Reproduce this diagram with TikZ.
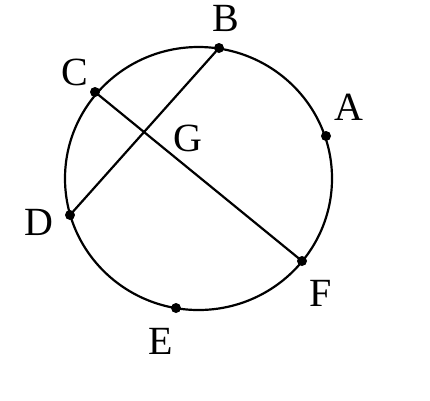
\documentclass[tikz,border=0pt]{standalone}
\usepackage{fontspec}
\setmainfont{Liberation Serif}
\begin{document}
\begin{tikzpicture}[x=1pt,y=-1pt,
  curve/.style={line width=2.2pt,black},
  pt/.style={circle,fill=black,inner sep=0pt,minimum size=10pt},
  lbl/.style={inner sep=0pt,font=\fontsize{40}{48}\selectfont}]
\useasboundingbox (0,0) rectangle (430,400);
\coordinate (O) at (198.5,178.5);
\draw[curve] (O) ellipse [x radius=133.5,y radius=131.5];
\node[pt] (B) at (219,48) {};
\node[pt] (C) at (95,92) {};
\node[pt] (A) at (326,136) {};
\node[pt] (D) at (70,215) {};
\node[pt] (F) at (302,261) {};
\node[pt] (E) at (176,308) {};
\draw[curve] (B.center) -- (D.center);
\draw[curve] (C.center) -- (F.center);
\node[lbl] (lB) at (226,18) {B};
\node[lbl] (lC) at (75,72) {C};
\node[lbl] (lA) at (349,107) {A};
\node[lbl] (lG) at (188,138) {G};
\node[lbl] (lD) at (39,222) {D};
\node[lbl] (lF) at (321,293) {F};
\node[lbl] (lE) at (161,341) {E};
\end{tikzpicture}
\end{document}
